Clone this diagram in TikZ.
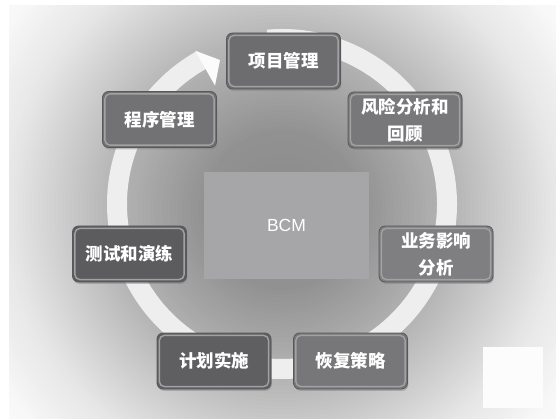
\documentclass[tikz,border=0pt]{standalone}
\usepackage{fontspec}
\newfontfamily\cjk{Noto Sans CJK SC}
\newfontfamily\arialf{Liberation Sans}
\usetikzlibrary{shadows}
\definecolor{ringcol}{HTML}{EEEEEE}
\definecolor{edgecol}{HTML}{58585B}
\definecolor{bevelcol}{HTML}{A2A2A5}
\definecolor{cA}{HTML}{6D6D70}
\definecolor{cB}{HTML}{727275}
\definecolor{cC}{HTML}{78787B}
\definecolor{cD}{HTML}{7F7F82}
\definecolor{cE}{HTML}{77777A}
\definecolor{cF}{HTML}{5C5C5F}
\definecolor{cG}{HTML}{5F5F62}
\definecolor{bcmcol}{HTML}{A6A6A8}
\begin{document}
\begin{tikzpicture}[x=1pt,y=-1pt,
  stagebox/.style={rounded corners=6pt, minimum width=114pt, minimum height=56pt, inner sep=0pt,
    draw=edgecol, line width=0.8pt, text=white, align=center,
    font=\cjk\bfseries\fontsize{17.5}{27}\selectfont,
    drop shadow={shadow xshift=0.8pt, shadow yshift=-1.8pt, opacity=0.45},
    path picture={\draw[bevelcol, line width=1.4pt, rounded corners=5pt]
      ([shift={(2.4pt,-2.4pt)}]path picture bounding box.north west) rectangle
      ([shift={(-2.4pt,2.4pt)}]path picture bounding box.south east);}},
  centerbox/.style={fill=bcmcol, minimum width=165pt, minimum height=107pt, inner sep=0pt,
    text=white, font=\arialf\fontsize{17.5}{20}\selectfont},
  ringline/.style={ringcol, line width=20pt},
  arrowhead/.style={fill=white!97!gray}
]
\useasboundingbox (0,0) rectangle (556,419);
\fill[white] (0,0) rectangle (556,419);
\coordinate (g) at (282,210);
\begin{scope}
  \clip (9,6) rectangle (556,419);
  \foreach \r in {400,396,...,0} {
    \pgfmathsetmacro\gv{\r<80 ? 0.54+0.000375*\r : (\r<150 ? 0.57+0.0015714*(\r-80) : (\r<180 ? 0.68+0.0013333*(\r-150) : (\r<270 ? 0.72+0.002*(\r-180) : (\r<330 ? 0.90+0.0011667*(\r-270) : (\r<380 ? 0.97+0.0006*(\r-330) : 1)))))}
    \definecolor{bgtmp}{gray}{\gv}
    \fill[bgtmp] (g) circle[radius=\r];
  }
\end{scope}
\fill[white!98!gray] (483,347) rectangle (543,408);
\coordinate (c) at (282,204);
\coordinate (tip) at (220,60);
\draw[ringline] ([shift={(c)}]265:165) arc[start angle=265, end angle=601, radius=165];
\fill[arrowhead] ([shift={(c)}]600.5:176) -- (tip) -- ([shift={(c)}]600.5:136) -- cycle;
\node[centerbox] (bcm) at (286.5,225.5) {BCM};
\node[stagebox, fill=cA] (pm) at (283.5,61) {项目管理};
\node[stagebox, fill=cC] (risk) at (405,120) {风险分析和\\回顾};
\node[stagebox, fill=cD] (bia) at (436,254) {业务影响\\分析};
\node[stagebox, fill=cE] (rec) at (350.5,361) {恢复策略};
\node[stagebox, fill=cG] (impl) at (214,361) {计划实施};
\node[stagebox, fill=cF] (test) at (129.5,254) {测试和演练};
\node[stagebox, fill=cB] (proc) at (159.5,119.5) {程序管理};
\end{tikzpicture}
\end{document}
